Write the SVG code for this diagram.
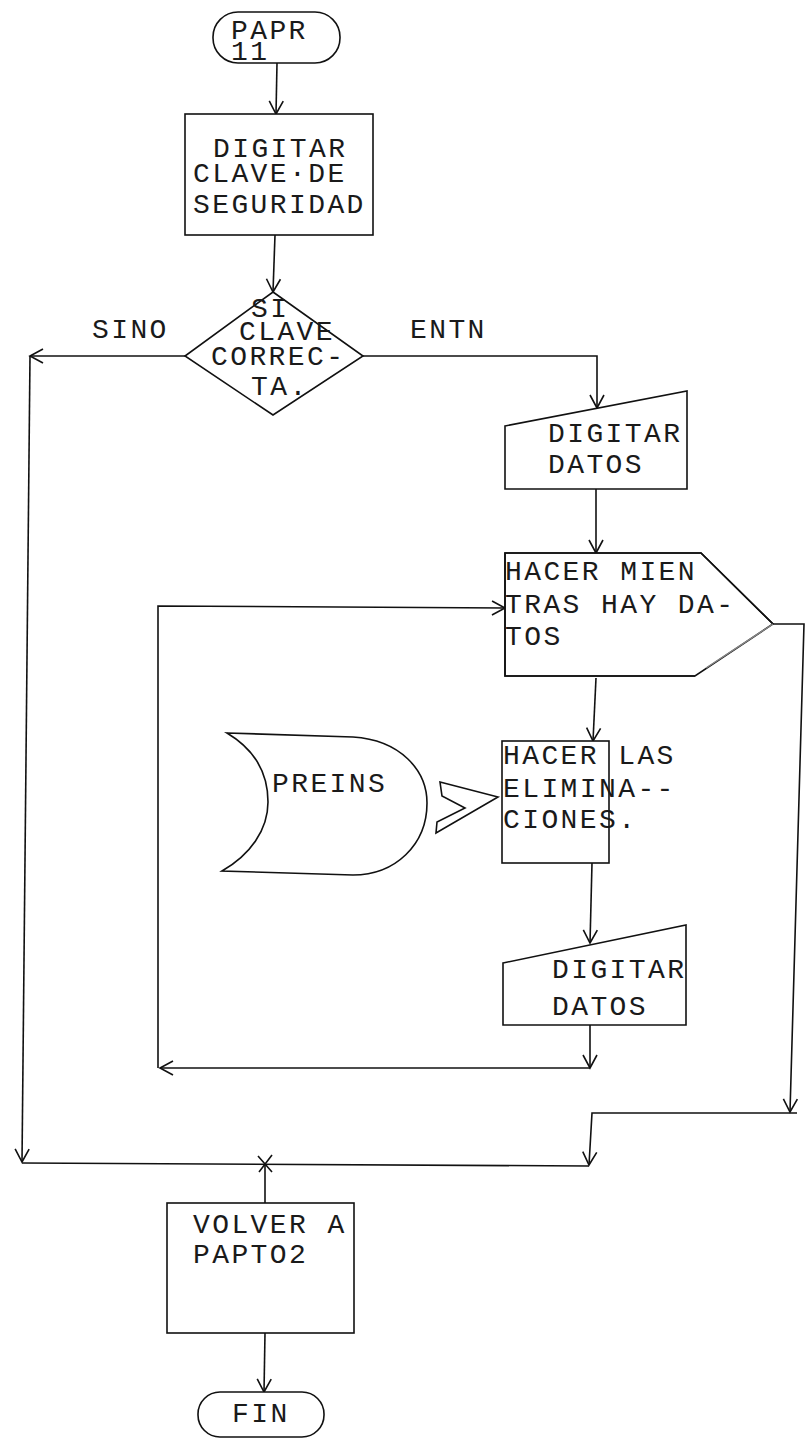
<svg xmlns="http://www.w3.org/2000/svg" width="805" height="1448" viewBox="0 0 805 1448">
<style>
.s{fill:none;stroke:#111;stroke-width:1.6;stroke-linejoin:miter}
.n{fill:#fff;stroke:#111;stroke-width:1.6}
.t{font-family:"Liberation Mono","DejaVu Sans Mono",monospace;font-size:28px;letter-spacing:2.4px;fill:#1a1a1a}
</style>
<defs>
<marker id="a" markerUnits="userSpaceOnUse" markerWidth="30" markerHeight="30" refX="0" refY="0" viewBox="-15 -15 30 30" orient="auto" overflow="visible">
<path d="M-13,-7 L0,0 L-13,7" fill="none" stroke="#111" stroke-width="1.6"/>
</marker>
</defs>
<rect width="805" height="1448" fill="#fff"/>
<g id="connectors">
<path class="s" d="M277,63 L276,114" marker-end="url(#a)"/>
<path class="s" d="M275,235 L273,292" marker-end="url(#a)"/>
<path class="s" d="M185,356 L30,356" marker-end="url(#a)"/>
<path class="s" d="M30,356 L22,1162" marker-end="url(#a)"/>
<path class="s" d="M363,356 L597,356 L597,408" marker-end="url(#a)"/>
<path class="s" d="M596,489 L596,553" marker-end="url(#a)"/>
<path class="s" d="M773,624 L804,624 L790,1112" marker-end="url(#a)"/>
<path class="s" d="M797,1113 L592,1113 L589,1165" marker-end="url(#a)"/>
<path class="s" d="M22,1163 L589,1166"/>
<path class="s" d="M265,1164 L265,1203"/>
<path class="s" d="M258,1156 L272,1172 M272,1155 L259,1172"/>
<path class="s" d="M265,1333 L264,1392" marker-end="url(#a)"/>
<path class="s" d="M596,678 L593,741" marker-end="url(#a)"/>
<path class="s" d="M592,863 L590,943" marker-end="url(#a)"/>
<path class="s" d="M590,1025 L590,1068" marker-end="url(#a)"/>
<path class="s" d="M590,1068 L160,1068" marker-end="url(#a)"/>
<path class="s" d="M158,1068 L158,606 L505,608" marker-end="url(#a)"/>
<text class="t" x="92" y="338">SINO</text>
<text class="t" x="410" y="338">ENTN</text>
</g>
<g id="start">
<rect class="n" x="213" y="12" width="127" height="51" rx="25"/>
<text class="t" x="231" y="39">PAPR</text>
<text class="t" x="231" y="60">11</text>
</g>
<g id="clave">
<rect class="n" x="185" y="114" width="188" height="121"/>
<text class="t" x="213" y="157">DIGITAR</text>
<text class="t" x="193" y="182">CLAVE·DE</text>
<text class="t" x="193" y="213">SEGURIDAD</text>
</g>
<g id="decision">
<polygon class="n" points="273,292 363,356 273,415 185,356"/>
<text class="t" x="251" y="317">SI</text>
<text class="t" x="239" y="340">CLAVE</text>
<text class="t" x="211" y="365">CORREC-</text>
<text class="t" x="251" y="395">TA.</text>
</g>
<g id="digitar1">
<polygon class="n" points="505,426 687,391 687,489 505,489"/>
<text class="t" x="548" y="442">DIGITAR</text>
<text class="t" x="548" y="473">DATOS</text>
</g>
<g id="mientras">
<path class="n" d="M505,553 L701,553 L773,624 L695,676 L505,676 Z" stroke="none"/>
<path class="s" d="M695,676 L505,676 L505,553 L701,553 L773,624"/>
<path fill="none" stroke="#888" stroke-width="1.4" d="M773,624 L706,668"/>
<text class="t" x="505" y="580">HACER MIEN</text>
<text class="t" x="505" y="613">TRAS HAY DA-</text>
<text class="t" x="505" y="645">TOS</text>
</g>
<g id="preins">
<path class="n" d="M227,733 L353,737 C400,740 427,770 427,803 C427,845 395,875 353,875 L222,871 C250,855 268,830 268,802 C268,770 252,748 227,733 Z"/>
<text class="t" x="272" y="792">PREINS</text>
<polygon class="n" points="440,782 498,797 436,833 437,822 465,808 442,796"/>
</g>
<g id="eliminaciones">
<rect class="n" x="502" y="741" width="107" height="122"/>
<text class="t" x="503" y="764">HACER LAS</text>
<text class="t" x="503" y="797">ELIMINA--</text>
<text class="t" x="503" y="828">CIONES.</text>
</g>
<g id="digitar2">
<polygon class="n" points="503,963 686,925 686,1025 503,1025"/>
<text class="t" x="552" y="978">DIGITAR</text>
<text class="t" x="552" y="1015">DATOS</text>
</g>
<g id="volver">
<rect class="n" x="167" y="1203" width="187" height="130"/>
<text class="t" x="193" y="1233">VOLVER A</text>
<text class="t" x="193" y="1263">PAPTO2</text>
</g>
<g id="fin">
<rect class="n" x="198" y="1392" width="126" height="45" rx="22"/>
<text class="t" x="232" y="1422">FIN</text>
</g>
</svg>
